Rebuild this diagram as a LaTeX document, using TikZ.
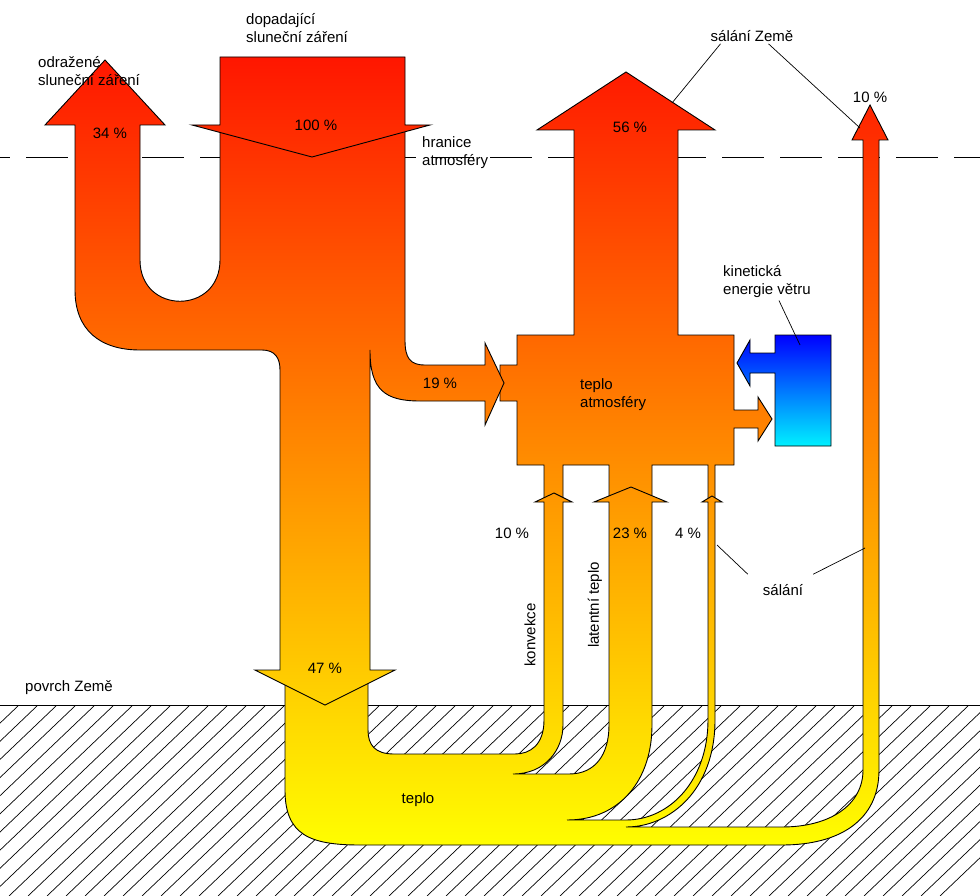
\documentclass[tikz,border=0pt]{standalone}
\usepackage{fontspec}
\setmainfont{Liberation Sans}
\usetikzlibrary{positioning}
\tikzset{
    outline/.style = {
        draw=black,
        line width=0.9pt,
        line join=miter
    },
    heat/.style = {
        top color={rgb,255:red,255;green,20;blue,0},
        middle color={rgb,255:red,255;green,125;blue,0},
        bottom color={rgb,255:red,255;green,255;blue,0}
    },
    label/.style = {
        align=left,
        inner sep=0pt,
        font=\fontsize{15}{18}\selectfont
    },
    leader/.style = {
        draw=black,
        line width=0.7pt
    }
}
\newcommand{\warmflow}[1]{%
    \begin{scope}
        \clip #1;
        \shade[heat] (0,50) rectangle (980,850);
    \end{scope}
    \draw[outline] #1;
}
\begin{document}
\begin{tikzpicture}[x=1pt,y=-1pt]
    \useasboundingbox (0,0) rectangle (980,896);
    % ground
    \begin{scope}
        \clip (0,705) rectangle (980,896);
        \foreach \i in {0,...,60} {
            \draw[line width=0.7pt] (\i*19-200,896) -- (\i*19,705);
        }
    \end{scope}
    \draw[line width=0.9pt] (0,705) -- (980,705);
    % boundary of atmosphere
    \draw[line width=0.9pt, dash pattern=on 42pt off 16pt, dash phase=32pt] (0,157) -- (980,157);
    % heat of the atmosphere
    \warmflow{(517,335) -- (574,335) -- (574,130) -- (537,130) -- (626,72) -- (715,130)
        -- (678,130) -- (678,335) -- (734,335) -- (734,410) -- (758,410) -- (758,397)
        -- (772,419) -- (758,441) -- (758,428) -- (734,428) -- (734,465)
        -- (715,465) -- (715,499) -- (708,499) -- (708,465)
        -- (652,465) -- (652,496) -- (609,496) -- (609,465)
        -- (563,465) -- (563,498) -- (544,498) -- (544,465) -- (517,465)
        -- (517,401) -- (500,401) -- (500,365) -- (517,365) -- cycle}
    % heat in the ground and the flows rising from it
    \warmflow{(285,680) -- (285,790) .. controls (285,835) and (310,845) .. (360,845)
        -- (782,845) .. controls (840,845) and (879,820) .. (879,770)
        -- (879,140) -- (888,140) -- (870,105) -- (852,140) -- (863,140)
        -- (863,770) .. controls (863,805) and (830,827) .. (782,827)
        -- (626,827) .. controls (670,827) and (715,790) .. (715,720)
        -- (715,502) -- (722,502) -- (712,496) -- (702,502) -- (708,502)
        -- (708,720) .. controls (708,780) and (670,820) .. (626,820)
        -- (567,820) .. controls (620,820) and (652,780) .. (652,725)
        -- (652,502) -- (667,502) -- (631,487) -- (594,502) -- (609,502)
        -- (609,725) .. controls (609,755) and (595,774) .. (569,774)
        -- (513,774) .. controls (545,774) and (563,750) .. (563,725)
        -- (563,502) -- (572,502) -- (554,493) -- (535,502) -- (544,502)
        -- (544,720) .. controls (544,745) and (530,754) .. (515,754)
        -- (394,754) .. controls (375,754) and (368,745) .. (368,730) -- (368,680) -- cycle}
    % solar radiation
    \warmflow{(75,125) -- (75,290) .. controls (75,330) and (100,350) .. (140,350)
        -- (262,350) .. controls (275,350) and (280,358) .. (280,370)
        -- (280,670) -- (255,670) -- (325,705) -- (395,670) -- (370,670)
        -- (370,350) .. controls (370,390) and (385,401) .. (420,401)
        -- (485,401) -- (485,425) -- (504,383) -- (485,343) -- (485,365)
        -- (425,365) .. controls (410,365) and (405,358) .. (405,340)
        -- (405,125) -- (220,125) -- (220,260) .. controls (220,315) and (140,315) .. (140,260)
        -- (140,125) -- (165,125) -- (105,60) -- (45,125) -- cycle}
    \warmflow{(220,57) -- (405,57) -- (405,125) -- (430,125) -- (312,157)
        -- (192,125) -- (220,125) -- cycle}
    % wind
    \shade[top color={rgb,255:red,0;green,0;blue,255}, bottom color={rgb,255:red,0;green,240;blue,255}, outline]
        (775,335) -- (831,335) -- (831,446) -- (775,446) -- (775,373) -- (750,373)
        -- (750,386) -- (737,363) -- (750,340) -- (750,353) -- (775,353) -- cycle;
    % labels
    \node[label, anchor=north west] (reflected) at (38,56) {odražené\\sluneční záření};
    \node[label, anchor=north west] (incoming) at (246,13) {dopadající\\sluneční záření};
    \node[label] (p34) at (110,133) {34 \%};
    \node[label] (p100) at (316,125) {100 \%};
    \node[label, anchor=north west] (boundary) at (422,136) {hranice\\atmosféry};
    \node[label] (earthrad) at (752,36) {sálání Země};
    \node[label] (p56) at (630,127) {56 \%};
    \node[label] (p10top) at (870,97) {10 \%};
    \node[label, anchor=north west] (wind) at (723,265) {kinetická\\energie větru};
    \node[label] (p19) at (440,383) {19 \%};
    \node[label, anchor=north west] (atmheat) at (580,378) {teplo\\atmosféry};
    \node[label] (p10) at (512,533) {10 \%};
    \node[label] (p23) at (630,533) {23 \%};
    \node[label] (p4) at (688,533) {4 \%};
    \node[label, rotate=90] (convection) at (530,635) {konvekce};
    \node[label, rotate=90] (latent) at (595,605) {latentní teplo};
    \node[label] (radiation) at (783,590) {sálání};
    \node[label] (p47) at (325,668) {47 \%};
    \node[label, anchor=west] (surface) at (25,688) {povrch Země};
    \node[label] (groundheat) at (418,800) {teplo};
    % leader lines
    \coordinate (c56) at (672,103);
    \coordinate (c10) at (860,128);
    \coordinate (cwind) at (800,345);
    \coordinate (c4) at (717,545);
    \coordinate (c10b) at (865,548);
    \draw[leader] (earthrad.south west) ++(10,2) -- (c56);
    \draw[leader] (earthrad.south east) ++(-25,2) -- (c10);
    \draw[leader] (wind.south) ++(12,3) -- (cwind);
    \draw[leader] (radiation.north west) ++(-15,-10) -- (c4);
    \draw[leader] (radiation.north east) ++(10,-10) -- (c10b);
\end{tikzpicture}
\end{document}
